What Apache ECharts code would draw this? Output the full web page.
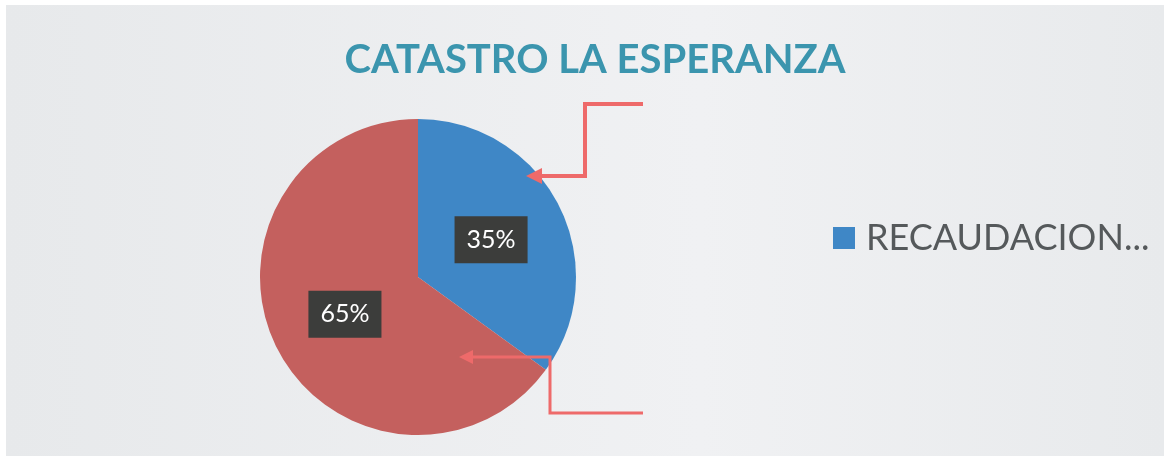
<!DOCTYPE html>
<html>
<head>
<meta charset="utf-8">
<script src="https://cdn.jsdelivr.net/npm/echarts@6/dist/echarts.min.js"></script>
<style>
  html, body { margin: 0; padding: 0; background: #fff; }
  #chart { width: 1164px; height: 456px; }
</style>
</head>
<body>
<div id="chart"></div>
<script>
const categories = ['RECAUDACION', 'PENDIENTE']
const values = [35, 65]
const colors = ['#3f87c6', '#c4605e']

const chart = echarts.init(document.getElementById('chart'))

chart.setOption({
  backgroundColor: '#fff',
  animation: false,
  graphic: [
    {
      type: 'rect',
      z: -10,
      shape: { x: 6, y: 5, width: 1158, height: 451 },
      style: {
        fill: new echarts.graphic.LinearGradient(0, 0, 1, 0, [
          { offset: 0, color: '#e7e9eb' },
          { offset: 0.6, color: '#f0f1f3' },
          { offset: 1, color: '#e8eaec' },
        ]),
      },
    },
    // annotation arrows
    {
      type: 'polyline',
      z: 10,
      shape: { points: [[643, 104], [585, 104], [585, 176], [538, 176]] },
      style: { stroke: '#ee6a6a', lineWidth: 4, fill: null },
    },
    {
      type: 'polygon',
      z: 10,
      shape: { points: [[526, 176], [542, 168], [542, 184]] },
      style: { fill: '#ee6a6a' },
    },
    {
      type: 'polyline',
      z: 10,
      shape: { points: [[643, 413], [550, 413], [550, 357], [470, 357]] },
      style: { stroke: '#ee6a6a', lineWidth: 3, fill: null },
    },
    {
      type: 'polygon',
      z: 10,
      shape: { points: [[459, 357], [473, 350], [473, 364]] },
      style: { fill: '#ee6a6a' },
    },
  ],
  title: {
    text: 'CATASTRO LA ESPERANZA',
    left: 590,
    textAlign: 'center',
    top: 35,
    textStyle: {
      fontFamily: 'Lato',
      fontWeight: 'bold',
      fontSize: 40,
      color: '#3b95ae',
    },
  },
  legend: {
    data: [categories[0]],
    left: 828,
    top: 215,
    itemWidth: 22,
    itemHeight: 22,
    icon: 'rect',
    formatter: (name) => name + '...',
    textStyle: { fontFamily: 'Lato', fontSize: 36, color: '#55595b', padding: [0, 0, 0, 6] },
  },
  series: [
    {
      type: 'pie',
      center: [418, 277],
      radius: 158,
      startAngle: 90,
      clockwise: true,
      label: {
        position: 'inside',
        formatter: '{d}%',
        fontFamily: 'Lato',
        fontSize: 25,
        color: '#fff',
        backgroundColor: '#3c3d3b',
        padding: [11, 12],
      },
      labelLine: { show: false },
      itemStyle: { borderWidth: 0 },
      data: categories.map((name, i) => ({
        name,
        value: values[i],
        itemStyle: { color: colors[i] },
      })),
    },
  ],
})
</script>
</body>
</html>
